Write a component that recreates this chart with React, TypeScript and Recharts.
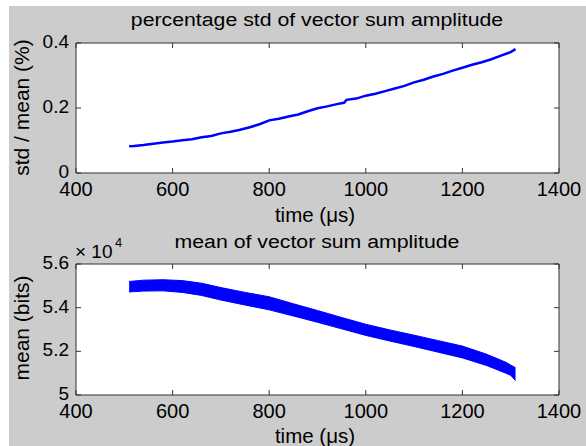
import { ComposedChart, Line, Area, XAxis, YAxis, CartesianGrid } from 'recharts';

const FONT = '"Liberation Sans", Arial, sans-serif';
const BOX = '#333';
const BLUE = '#0000ff';

const timeTicks = [400, 600, 800, 1000, 1200, 1400];
const stdTicks = [0, 0.2, 0.4];
const meanTicks = [50000, 52000, 54000, 56000];

// percentage std (top panel)
const stdTime = [510, 520, 540, 560, 580, 600, 620, 640, 660, 680, 700, 720, 740, 760, 780, 800, 820, 840, 860, 880, 900, 920, 940, 955, 960, 980, 1000, 1020, 1040, 1060, 1080, 1100, 1120, 1140, 1160, 1180, 1200, 1220, 1240, 1260, 1280, 1300, 1310];
const stdPct = [0.082, 0.083, 0.086, 0.09, 0.094, 0.097, 0.101, 0.104, 0.11, 0.114, 0.122, 0.127, 0.133, 0.141, 0.15, 0.162, 0.167, 0.174, 0.18, 0.19, 0.199, 0.205, 0.212, 0.216, 0.225, 0.229, 0.238, 0.244, 0.252, 0.26, 0.268, 0.279, 0.287, 0.297, 0.305, 0.315, 0.324, 0.333, 0.341, 0.35, 0.361, 0.372, 0.381];

// mean amplitude band (bottom panel), bits
const meanTime = [510, 540, 580, 620, 660, 700, 750, 800, 850, 900, 950, 1000, 1050, 1100, 1150, 1200, 1250, 1290, 1300, 1310];
const meanLow = [54720, 54760, 54770, 54700, 54560, 54350, 54120, 53900, 53620, 53330, 53030, 52730, 52470, 52220, 51960, 51700, 51350, 51000, 50900, 50660];
const meanHigh = [55200, 55260, 55280, 55240, 55120, 54920, 54700, 54500, 54180, 53870, 53550, 53240, 52980, 52740, 52490, 52240, 51870, 51500, 51370, 51250];

const stdData = stdTime.map((t, i) => ({ t, v: stdPct[i] }));
const meanData = meanTime.map((t, i) => ({ t, band: [meanLow[i], meanHigh[i]] }));

const XTick = (props: any) => (
  <text x={props.x} y={props.y + 23} textAnchor="middle" fontSize={20} fontFamily={FONT} fill="#000">
    {props.payload.value}
  </text>
);

const YTick = (props: any) => {
  const v = props.scale10k ? props.payload.value / 10000 : props.payload.value;
  return (
    <text x={props.x - 7} y={props.y + 5} textAnchor="end" fontSize={19} fontFamily={FONT} fill="#000">
      {String(v)}
    </text>
  );
};

const NoTick = () => <g />;

// axes on all four sides make the box; ticks point inward
const boxAxes = (yDomain: number[], yTicks: number[], scale10k: boolean) => [
  <XAxis key="xb" xAxisId="b" dataKey="t" type="number" domain={[400, 1400]} ticks={timeTicks} interval={0}
    height={1} tickSize={-5} tickMargin={5} axisLine={{ stroke: BOX }} tickLine={{ stroke: BOX }} tick={<XTick />} allowDataOverflow />,
  <XAxis key="xt" xAxisId="t" orientation="top" dataKey="t" type="number" domain={[400, 1400]} ticks={timeTicks} interval={0}
    height={1} tickSize={-5} tickMargin={5} axisLine={{ stroke: BOX }} tickLine={{ stroke: BOX }} tick={<NoTick />} allowDataOverflow />,
  <YAxis key="yl" yAxisId="l" type="number" domain={yDomain} ticks={yTicks} interval={0}
    width={1} tickSize={-5} tickMargin={5} axisLine={{ stroke: BOX }} tickLine={{ stroke: BOX }} tick={<YTick scale10k={scale10k} />} allowDataOverflow />,
  <YAxis key="yr" yAxisId="r" orientation="right" type="number" domain={yDomain} ticks={yTicks} interval={0}
    width={1} tickSize={-5} tickMargin={5} axisLine={{ stroke: BOX }} tickLine={{ stroke: BOX }} tick={<NoTick />} allowDataOverflow />,
];

const App = () => {
  return (
    <div style={{ position: 'absolute', left: 0, top: 0, width: 586, height: 446, background: '#fff' }}>
      <div style={{ position: 'absolute', left: 9, top: 6, width: 577, height: 440, background: '#cccccc' }} />

      <div style={{ position: 'absolute', left: 0, top: 0 }}>
        <ComposedChart width={586} height={220} data={stdData} margin={{ top: 42, right: 26, bottom: 46, left: 75 }}>
          <CartesianGrid xAxisId="b" yAxisId="l" horizontal={false} vertical={false} fill="#fff" fillOpacity={1} />
          {boxAxes([0, 0.4], stdTicks, false)}
          <Line xAxisId="b" yAxisId="l" dataKey="v" type="linear" stroke={BLUE} strokeWidth={2.5} dot={false} activeDot={false} isAnimationActive={false} />
        </ComposedChart>
      </div>

      <div style={{ position: 'absolute', left: 0, top: 220 }}>
        <ComposedChart width={586} height={226} data={meanData} margin={{ top: 43, right: 26, bottom: 50, left: 75 }}>
          <CartesianGrid xAxisId="b" yAxisId="l" horizontal={false} vertical={false} fill="#fff" fillOpacity={1} />
          {boxAxes([50000, 56000], meanTicks, true)}
          <Area xAxisId="b" yAxisId="l" dataKey="band" type="linear" stroke={BLUE} strokeWidth={1} fill={BLUE} fillOpacity={1} dot={false} activeDot={false} isAnimationActive={false} />
        </ComposedChart>
      </div>

      <svg width={586} height={446} style={{ position: 'absolute', left: 0, top: 0, pointerEvents: 'none' }} fontFamily={FONT} fill="#000">
        <text transform="translate(317,26) scale(1.12,1)" textAnchor="middle" fontSize={19}>percentage std of vector sum amplitude</text>
        <text x={315} y={221.5} textAnchor="middle" fontSize={20.5}>time (μs)</text>
        <text transform="translate(29,107.5) rotate(-90)" textAnchor="middle" fontSize={21}>std / mean (%)</text>

        <text transform="translate(317,248) scale(1.12,1)" textAnchor="middle" fontSize={19}>mean of vector sum amplitude</text>
        <text x={75} y={258} fontSize={19}>× 10</text>
        <text x={115} y={247} fontSize={13}>4</text>
        <text x={315} y={443} textAnchor="middle" fontSize={20.5}>time (μs)</text>
        <text transform="translate(29,328) rotate(-90)" textAnchor="middle" fontSize={21}>mean (bits)</text>
      </svg>
    </div>
  );
};

export default App;
